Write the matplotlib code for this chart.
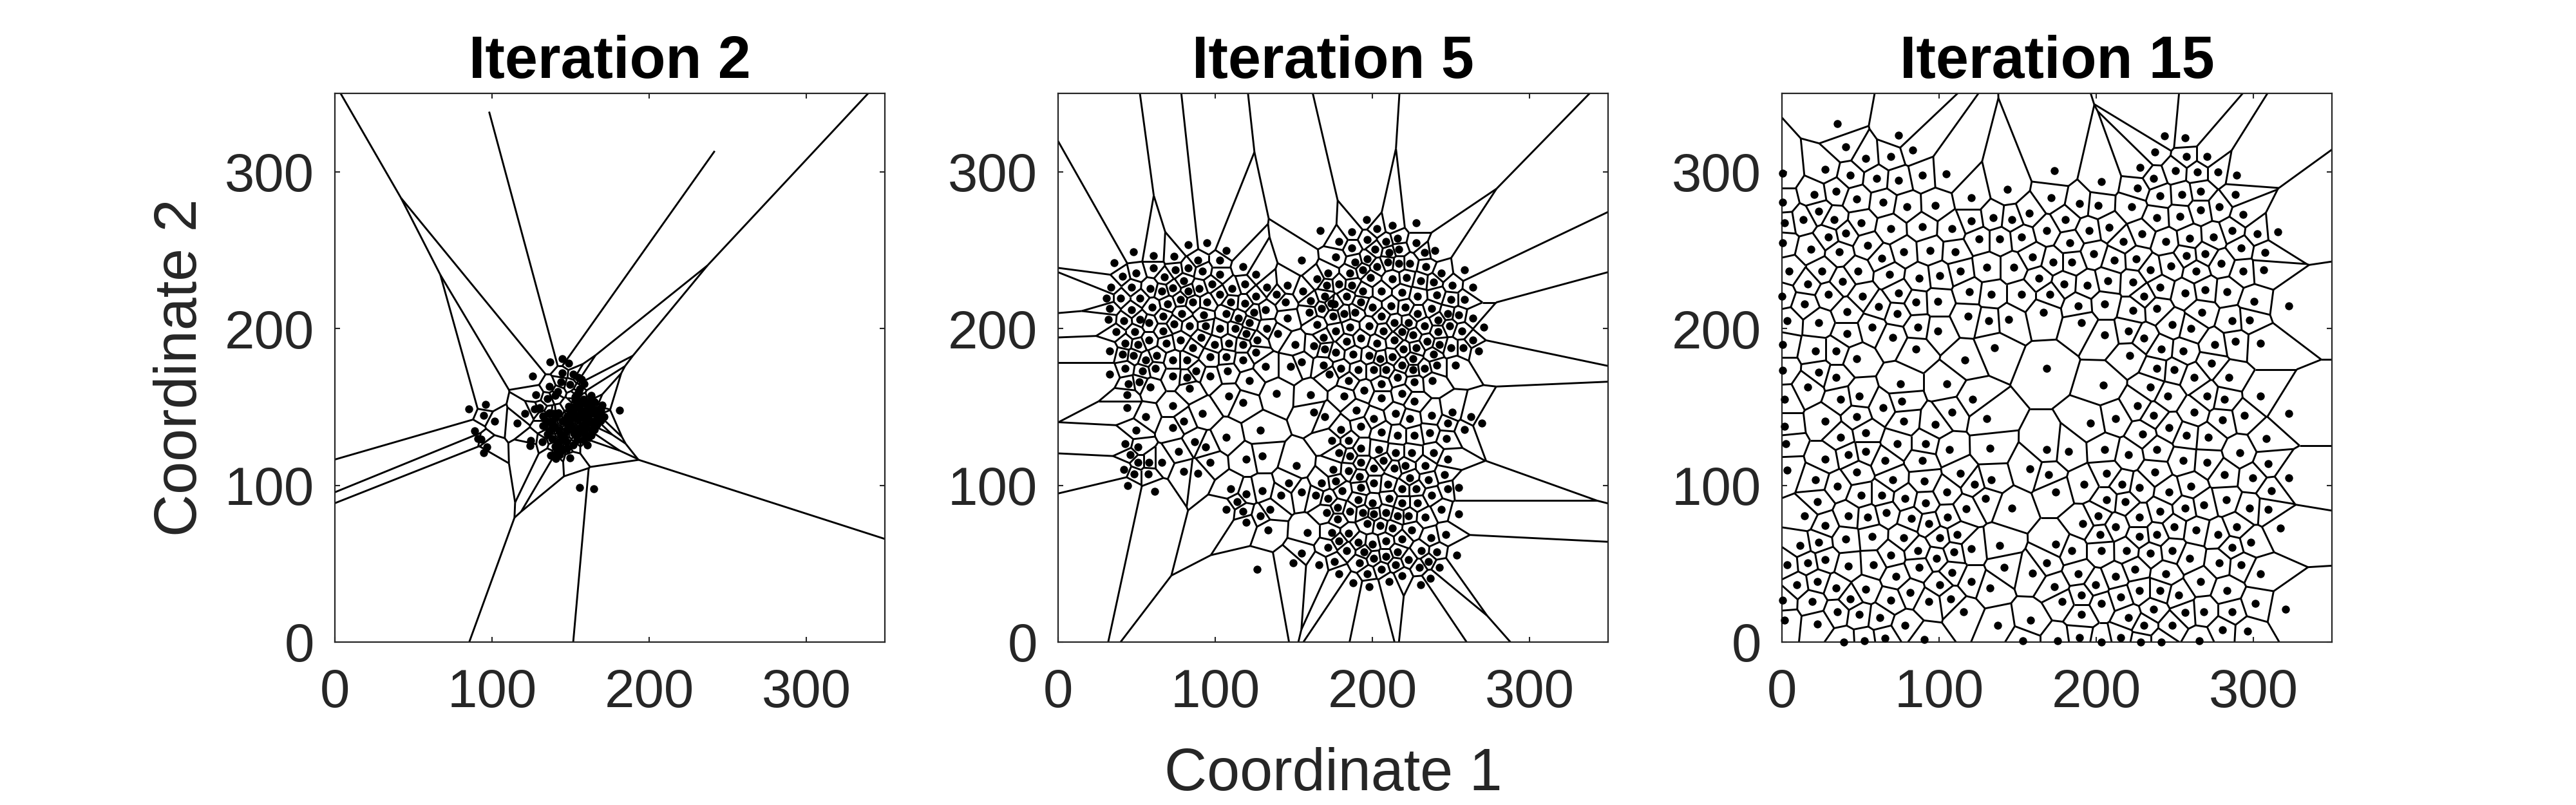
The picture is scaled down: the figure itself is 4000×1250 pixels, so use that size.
"""Voronoi tessellations of the node positions at three iterations."""

import matplotlib

matplotlib.use("Agg")
import matplotlib.pyplot as plt
import matplotlib.tri as mtri
import numpy as np
from matplotlib.collections import LineCollection

iter2_points = np.array([
    (85.1, 148.6), (95.9, 151.6), (94.7, 144.5), (101.8, 140.8), (89.1, 134.8), (91.1, 129.9), (93.2, 129.5),
    (96.9, 124.6), (94.7, 120.8), (121.1, 145.8), (116.1, 139.6), (124.7, 128.7), (124, 125.4), (128, 157.6),
    (126, 169.5), (137, 178.5), (144.8, 180.6), (148.9, 177.7), (144.8, 171.6), (151.8, 170.8), (143.9, 166),
    (149.7, 164.5), (136.6, 163), (141.6, 160), (135.4, 155.2), (140, 157.2), (127, 148.6), (130.5, 149.7),
    (181, 147.8), (160.8, 125.7), (149.6, 117.5), (140.7, 117), (137.3, 119), (132.1, 127.6), (155.9, 98.6),
    (164.9, 97.8), (155, 168.9), (158.5, 164.8), (157.1, 167.5), (155.7, 161.3), (154.4, 158.6), (153, 156.6),
    (163.3, 157.2), (165.3, 153.1), (170.1, 151.1), (169.4, 148.4), (171.4, 143.6), (169.4, 141.5),
    (165.3, 135.4), (161.2, 131.3), (151.6, 125.8), (147.5, 123.1), (132.5, 144.3), (132.5, 138.1),
    (136.6, 146.3), (142.1, 146.3), (140, 143.6), (135.2, 132.7), (138, 129.9), (142.1, 127.2), (141.4, 121.7),
    (144.8, 123.1), (143.4, 132.7), (147.5, 135.4), (139.3, 138.1), (144.8, 140.8), (142.1, 135.4),
    (138, 140.2), (144.1, 129.2), (148.9, 150.4), (153, 154.5), (151.6, 146.3), (155.7, 149), (159.8, 147.7),
    (154.4, 142.2), (150.3, 138.1), (157.1, 138.1), (161.2, 143.6), (164, 139.5), (158.5, 134), (154.4, 132.7),
    (159.8, 151.8), (166.7, 147.7), (166.7, 143.6), (162.6, 149), (155.7, 153.1), (147.5, 143.6),
    (152.9, 135.4), (157.8, 143.6), (151, 142.9), (163.9, 135.4),
    (150, 147), (153, 150), (156, 145), (160, 141), (163, 146), (148, 140), (152, 133), (156, 136), (160, 137),
    (146, 132), (140, 125), (143, 119.5), (147, 128), (137, 135), (135, 141), (139, 146), (149, 145), (158, 155),
    (161, 153), (165, 148), (168, 146), (167, 139), (163, 132), (158, 129), (154, 129),
])

iter5_points = np.array([
    (166.9, 262.7), (82.8, 253.5), (94.8, 254.8), (107.1, 249.9), (48.1, 248.8), (35.7, 241.8), (60.8, 246.6),
    (73.9, 245.9), (88.9, 243.7), (103, 243.7), (155, 243.7), (117.8, 239.6), (49.7, 235.5), (60.8, 238.8),
    (74.7, 237.6), (82.9, 238.8), (92, 236.8), (103, 234.7), (126, 234.7), (171.9, 235.5), (41.1, 233.5),
    (67.8, 232.8), (80.1, 230.6), (164.9, 231.8), (33.7, 226.5), (46.9, 226.5), (58.7, 225.7), (73.1, 225.8),
    (98.1, 228.5), (89.8, 225.7), (110.8, 225.7), (119, 228.5), (132.9, 226.5), (146, 227.7), (171, 227.7),
    (66.1, 223.8), (82.9, 223.8), (155.9, 223.8), (103, 221.7), (126, 220.8), (139.1, 221.7), (169.8, 220.8),
    (30.9, 219.5), (39.9, 219.5), (52.2, 219.5), (78, 218.7), (85.8, 216.7), (94.8, 216.7), (110, 216.7),
    (119, 216), (144.8, 216.7), (160.8, 217.6), (69.8, 215.8), (60, 213.8), (167.8, 212.6), (173.9, 216),
    (32.9, 212.6), (46.9, 211.8), (107.1, 209.7), (124.7, 210.5), (132.1, 211.8), (160, 210.5), (78.8, 209.7),
    (92.6, 208.5), (66.9, 207.7), (114.9, 206.8), (146, 206.8), (175.1, 207.7), (52, 205.7), (32.1, 205.7),
    (41.9, 204.8), (57.9, 203.6), (73.9, 202.9), (83.7, 201.6), (94, 201.5), (121.9, 203.6), (164.9, 202.7),
    (103, 200), (112.8, 200), (132.9, 199.9), (66.8, 198.6), (48.9, 198), (37, 198), (119.8, 196.6),
    (139.9, 196.6), (169, 194.5), (91.1, 194.5), (57.9, 192.5), (78, 192.5), (126.8, 192.5), (42.8, 190.8),
    (50.9, 189.6), (69, 190.8), (99.7, 189.6), (108.7, 190.8), (117.8, 189.6), (151, 189.6), (162.8, 188.8),
    (169.8, 186.8), (85.8, 187.6), (32.9, 185.5), (41.1, 183.5), (48.1, 182.6), (62.8, 182.6), (96.9, 181.8),
    (107.1, 181.8), (126, 184.7), (55.9, 179.8), (73.1, 179.8), (82.1, 179.8), (117.8, 179.8), (155, 178.6),
    (132.1, 175.7), (148.1, 175.7), (169, 176.5), (42.8, 174.5), (62, 174.5), (53.8, 172.8), (87.8, 172.8),
    (107.9, 172.8), (32.9, 170.8), (73.1, 169.5), (82.1, 168.7), (96.9, 169.5), (172.7, 170.8), (121.9, 166.7),
    (51.8, 165.8), (44.8, 164.6), (58.7, 162.6), (83.7, 161.7), (139.1, 158.5), (160.8, 157.6), (108.7, 156.9),
    (44, 157.6), (117.8, 152.7), (44, 149.5), (73.1, 150.7), (91.9, 145.8), (162.8, 146.6), (169.8, 143.7),
    (55.9, 143.7), (80.1, 140.8), (73.1, 136.7), (49.7, 135), (128.8, 135), (107.1, 130.6), (87, 127.7),
    (42.8, 126.5), (50.9, 124.5), (94, 124.5), (174, 128.6), (76.8, 121.6), (46, 119.5), (119.8, 116.7),
    (130, 118.7), (96.9, 114.6), (50.9, 114.6), (57.9, 114.6), (66.1, 114.6), (151.8, 112.4), (42, 110.1),
    (80, 108.7),
    (187, 261.7), (196.2, 269.5), (202.9, 263.8), (212.8, 265.8), (228, 267.5), (178.8, 255.6), (196.9, 256.8),
    (208.7, 255.6), (216.1, 257.7), (228, 254.8), (187, 251.5), (201.8, 250.7), (217, 250.7), (210.8, 248.7),
    (233, 248.7), (239.9, 249.9), (176.8, 245.8), (196.9, 244.5), (189, 242.5), (210, 242.4), (216.9, 241.6),
    (223.9, 241.7), (203, 239.6), (234, 239.6), (194, 237.6), (185.8, 235.5), (244, 235.5), (258.7, 237.6),
    (198.9, 232.7), (212.8, 231.8), (221.9, 232.6), (230.9, 230.6), (239, 229.8), (178.8, 228.5), (187, 227.7),
    (251, 227.7), (264, 226.5), (194, 223.8), (205.9, 223.8), (219, 223), (228.8, 220.8), (241.1, 221.6),
    (183.7, 220.8), (250.1, 218.7), (258.7, 218.7), (176, 215.8), (192.8, 216.7), (200.2, 213.8), (212, 214.6),
    (221, 213.8), (237.8, 212.6), (182.1, 209.7), (189.1, 210.5), (228.8, 209.7), (248, 209.7), (255, 208.5),
    (205.9, 207.7), (264, 206.8), (242, 205.6), (214, 203.6), (223.1, 203.6), (185.8, 200.7), (198.1, 201.5),
    (233, 201.5), (249, 201.5), (271, 200.7), (176.8, 198.6), (207.1, 198.6), (219, 198.2), (241.9, 198.2),
    (257.1, 198.6), (226, 195.8), (192.8, 193.7), (183.6, 191.7), (203, 190.8), (214, 192.5), (234.9, 191.7),
    (264, 192.5), (242.8, 189.6), (219.8, 186.8), (228, 187.6), (257.9, 187.6), (249.9, 187.6), (267.8, 185.5),
    (176.8, 184.7), (187.8, 183.5), (198.1, 182.6), (239, 183.5), (205, 180.6), (212.8, 181.8), (225.9, 180.6),
    (180, 174.5), (219, 176.5), (241.1, 176.5), (253, 176.5), (191.1, 173.6), (201, 173.6), (208.7, 173.6),
    (225.9, 173.6), (233, 174.5), (216.1, 168.7), (185, 166.7), (238, 166.7), (205.9, 164.6), (226.8, 165.8),
    (194.8, 160.5), (219, 158.5), (182.1, 156.8), (205.9, 155.6), (226.8, 153.6), (189.9, 147.8), (214.9, 145.8),
    (237.8, 144.5), (250.9, 146.6), (262.8, 143.7), (201, 142.5), (223.9, 142.5), (269.8, 139.6), (248, 139.6),
    (192.8, 137.6), (258.7, 135.5), (180, 135.5), (205.9, 134), (216.1, 131.8), (226.8, 131.8), (236.6, 133.5),
    (247.2, 129.8), (185, 128.6), (192.8, 123.6), (203.9, 122.8), (214.9, 120.8), (225.1, 120.8), (239, 120.8),
    (178.8, 120.8), (185.8, 118.7), (248, 116.7), (192.8, 114.6), (207.1, 115.8), (221, 112.6), (233.7, 112.6),
    (175.1, 110.1), (201, 110.9), (214.1, 110.9), (185, 109.4),
    (89, 107.6), (110, 97.8), (146.9, 101.5), (167.8, 101.5), (176.8, 102.7), (130.1, 96.6), (119.8, 94.5),
    (141.9, 93.7), (155, 95.8), (164.1, 93.7), (180.9, 96.6), (192.8, 98.6), (201, 101.5), (209.9, 100.7),
    (219, 97.8), (228, 97.8), (223.9, 104.8), (192, 105.6), (235.7, 103.6), (171.9, 91.7), (191.1, 90.8),
    (210.8, 91.7), (237.9, 93.7), (114.1, 89.6), (200.1, 88.8), (178, 85.9), (219, 88.8), (228.8, 88.8),
    (107.1, 84.7), (134.8, 84.7), (117.8, 83.5), (171, 82.7), (185.8, 83.5), (193.9, 82.7), (201, 81.8),
    (208.7, 82.7), (216.1, 80.6), (223.1, 80.6), (233.7, 79.8), (128.8, 80.6), (178, 78.6), (119.8, 76.5),
    (196.9, 75.7), (205, 74.5), (212.9, 72.8), (133.7, 71.6), (174, 70), (158.7, 70), (185, 69.5), (225.1, 71.6),
    (237.1, 66.7), (219, 65.8), (208.7, 64.6), (178.8, 64.6), (191.1, 63.8), (200.1, 62.6), (171.9, 60.5),
    (155, 56.8), (183.8, 58.5), (194.8, 57.7), (216.1, 57.7), (231, 58.5), (201, 53.6), (208.7, 54.8),
    (223.1, 52.7), (149.7, 50.7), (166.1, 49.5), (176, 51.5), (192, 50.7), (214.9, 49.5), (235.7, 51.5),
    (230, 47.8), (126.8, 46.6), (205.9, 46.6), (178.8, 43.7), (196.9, 43.7), (219, 42.5), (237, 40.8),
    (210.8, 38.8), (187.9, 37.6), (198.1, 35.5), (230.9, 36.7),
    (48.3, 107.4), (57.4, 107.4), (44.4, 100), (61.6, 96.3),
    (246, 106.8), (248.1, 97.8), (255.1, 98.6), (244, 84.7), (255.1, 81.8), (246.9, 68.7), (241.1, 57.7),
    (253.8, 55.6), (242.8, 47.8),
])

iter15_points = np.array([
    (35.4, 330.5), (74.3, 323.5), (40.6, 315.8), (83.3, 314), (53.3, 308.5), (69.3, 309.7), (27.5, 301.5),
    (0.5, 298.9), (43.6, 297.8), (60.4, 295.8), (74.3, 294.7), (89.5, 297.8), (104.6, 298.8), (173.5, 300.7),
    (20.6, 285.5), (34.4, 287.7), (47.7, 282.8), (0.5, 280.6), (64.5, 280.6), (79.6, 277.9), (97.7, 278.6),
    (120.6, 283.5), (143.6, 288.8), (171.4, 283.5), (23.5, 274.9), (13.5, 269.5), (33.3, 269.5), (1.5, 267.5),
    (50.4, 267.5), (120.6, 268.7), (134.4, 270.8), (146.4, 269.5), (157.4, 273.6), (69.3, 263.8), (89.5, 264.8),
    (108.3, 263.8), (168.6, 262.6), (40.6, 260.8), (29.6, 258.5), (0.5, 254.9), (54.6, 252.9), (125.4, 257),
    (138.7, 257), (152.6, 258.5), (18.6, 250.7), (36.5, 248.8), (77.6, 248.8), (94.3, 249.9), (110.4, 248.8),
    (159.6, 245.8), (63.7, 244.7), (172.5, 242.5), (4.6, 236.7), (25.5, 236.7), (48.4, 236.7), (130.5, 238.9),
    (147.5, 238.9), (113.5, 236.7), (68.4, 234.7), (100.5, 233.6), (87.3, 232), (163.7, 232), (38.5, 229.9),
    (16.5, 228.6), (119.4, 223.6), (74.3, 222.8), (29.6, 221.7), (133.3, 221.7), (152.6, 221.7), (170.6, 221.7),
    (0, 220.8), (51.4, 220.8), (99.3, 217.3), (85.4, 216.7), (14.5, 215.8), (61.6, 213.9), (73.4, 209.7),
    (41.5, 210.8), (166.5, 210.5), (118.6, 207.7), (3.3, 204.8), (131.7, 204.8), (144.4, 205.7), (23.5, 203.7),
    (57.5, 200.7), (86.5, 200.7), (41.5, 196.6), (99.3, 198.6), (70.6, 194.5), (135.4, 187.7), (0.5, 189.8),
    (85.4, 186.8), (21.4, 185.6), (34.4, 185.6), (47.7, 180.7), (116.5, 179.8), (168.6, 174.6), (0.5, 173.5),
    (23.5, 172), (34.4, 168.9),
    (16.5, 162.6), (104.8, 164.7), (75.5, 164.7), (1.5, 155), (37.4, 155), (49.2, 157), (121.3, 155),
    (76.4, 153.7), (64.5, 149.6), (108.3, 146.6), (47.7, 143.7), (27.5, 140.8), (77.6, 140.8), (130.5, 142.5),
    (97.7, 138.8), (1.5, 137.7), (53.4, 133.6), (37.4, 130.6), (2.6, 126.5), (73.4, 126.5), (91.4, 126.5),
    (106.7, 123), (132.5, 123.6), (168.6, 123), (53.4, 121.6), (42.4, 119.5), (27.5, 116.7), (65.7, 115.8),
    (89.5, 115.8), (3.3, 109.8), (47.7, 108.3), (113.7, 107.6), (157.7, 110.5), (169.5, 107), (21.4, 103.7),
    (70.6, 103.7), (133.3, 103.7), (90.7, 102.9), (122.7, 100.7), (35.4, 99.6), (50.4, 93.7), (63.7, 93.7),
    (78.4, 91.7), (104.8, 95.8), (174.3, 95.8), (129.6, 91.7), (22.7, 89.6), (91.4, 88.8), (146.4, 85.5),
    (117.3, 85.2), (66.5, 82.7), (14.5, 80.7), (42.4, 80.7), (54.6, 79.8), (105.5, 79.8), (82.5, 78.7),
    (93.6, 75.7), (27.5, 74.5), (57.5, 67.5), (77.6, 66.7), (100.5, 66.7), (111.6, 68.7), (40.7, 65.8),
    (11.6, 61.7), (23.5, 63.8), (138.7, 61.7), (174.3, 62.6), (86.5, 58.5), (120.6, 59.7), (109.6, 57.6),
    (69.3, 55.6), (98.5, 53.6), (27.5, 52.7), (16.5, 50.7), (168.6, 50.7), (3.3, 49.5), (42.4, 48.6),
    (58.3, 49.5), (87.4, 47.8), (141.5, 47.8), (108.3, 44.5), (159.6, 44), (72.7, 41.7), (22.7, 38.8),
    (120.6, 38.8), (9.6, 36.7), (100.5, 36.7), (34.4, 34.7), (132.5, 34.7), (173.5, 35.5), (53.4, 33.5),
    (81.7, 31.8), (43.6, 27.7), (107.5, 27.7), (0.5, 26.5), (69.3, 26.5), (19.4, 25.7), (93.6, 25.7),
    (35.4, 19.5), (115.7, 19.5), (49.3, 17.5), (62.4, 15.8), (1.5, 13.8), (158.3, 13.8), (22.7, 11.7),
    (78.4, 10.5), (137.4, 10.5), (65.7, 2.6), (90.7, 1.5), (39.5, 0), (52.6, 0.7), (153.4, 0.7), (175.4, 0.7),
    (243.6, 322.8), (256.7, 321.6), (237.4, 312.6), (257.5, 309.7), (270.5, 309.7), (227.7, 302.7),
    (250.5, 300.7), (264.5, 299.9), (277.6, 299.9), (289.5, 297.8), (236.6, 295.8), (203.4, 293.9),
    (226.4, 289.6), (266.5, 287.6), (254.6, 285.5), (240.7, 284.7), (288.6, 285.5), (189.5, 279.8),
    (201.4, 278.6), (222.7, 277.7), (278.4, 277.7), (266.5, 275.7), (293.6, 272.8), (253.4, 271.6),
    (238.7, 270.8), (180.5, 269.5), (208.3, 264.6), (195.6, 262.6), (286.6, 262.6), (229, 260.5),
    (315.7, 261.7), (302.6, 260.5), (259.5, 257.6), (274.7, 258.5), (217.3, 255.6), (244.4, 255.6),
    (183.3, 254.8), (292.3, 251.5), (198.5, 247.8), (269.4, 247.8), (257.5, 246.6), (307.5, 248.6),
    (225.5, 244.5), (211.6, 243.7), (279.7, 241.7), (184.6, 242.5), (247.6, 240), (234.6, 237.6),
    (263.6, 236.7), (293.6, 236.7), (306.7, 237.6), (223.5, 229.8), (207.5, 230.6), (179.6, 228.6),
    (194.4, 227.7), (240.7, 226.5), (269.4, 224.9), (283.3, 223.6), (256.7, 222.8), (230.5, 220.8),
    (300.5, 217.5), (205.5, 215.8), (188.7, 214.6), (322.7, 214.6), (238.7, 212.6), (223.5, 211.7),
    (267.3, 210.5), (286.6, 204.8), (297.6, 205.6), (190.7, 203.7), (248.5, 202.7), (260.4, 199.9),
    (220.6, 198.6), (205.5, 195.8), (230.5, 193.7), (288.7, 191.7), (304.6, 190.8), (275.5, 189.6),
    (241.5, 186.8), (255.5, 185.5), (221.4, 182.6), (273.5, 177.7), (238.7, 174.5), (249.6, 173.6),
    (262.4, 168.7), (284.6, 168.7), (204.6, 163.8), (234.6, 162.6), (304.6, 157), (245.6, 157), (270.6, 157),
    (281.7, 154.8), (226.4, 150.7), (262.4, 146.6), (322.7, 145.8), (212.4, 142.5), (236.6, 144.5),
    (294.4, 144.5), (280.5, 141.7), (246.4, 136.7), (196.4, 139.6), (229.6, 132.7), (257.5, 131.8),
    (271.4, 130.6), (308.3, 129.8), (205.5, 122.8), (238.7, 122.8), (182.5, 121.6), (220.6, 119.5),
    (291.5, 120.8), (255.5, 115.8), (270.6, 114.6), (309.6, 113.8), (237.4, 108.5), (206.7, 107.6),
    (281.7, 106.8), (299.7, 104.8), (322.7, 104.8), (192.3, 100.7), (216.5, 100.7), (260.4, 99.5),
    (227.6, 98.6), (246.4, 95.8), (311.6, 96.6), (206.7, 90.8), (282.6, 90.8), (218.6, 89.6), (268.6, 87.6),
    (256.7, 85.5), (297.7, 85.5), (309.6, 84.7), (240.7, 83.5), (201.4, 80.6), (227.6, 79.8), (191.5, 75.7),
    (212.4, 73.6), (249.7, 73.6), (263.6, 71.6), (289.5, 73.6), (317.4, 72.8), (202.6, 68.7), (238.7, 68.7),
    (277.6, 68.7), (227.6, 67.5), (298.5, 63.8), (286.6, 60.5), (219.4, 58.5), (248.5, 58.5), (184.6, 58.3),
    (203.4, 58.3), (234.6, 56.8), (259.6, 53.6), (278.4, 50.7), (292.3, 49.5), (224.7, 46.6), (188.7, 43.7),
    (244.4, 43.7), (304.6, 43.7), (212.4, 41.7), (266.5, 38.8), (199.7, 36.7), (283.3, 32.7), (227.6, 32.7),
    (240.7, 32.7), (190.7, 29.8), (215.7, 28.6), (252.6, 29.8), (178.4, 25.7), (203.4, 24.5), (301.4, 24.5),
    (236.6, 20.8), (320.6, 20.8), (268.6, 19.5), (286.6, 19.5), (256.7, 18.7), (190.7, 17.5), (220.6, 15.8),
    (230.5, 10.5), (248.5, 10.5), (280.5, 7.7), (296.4, 6.8), (189.5, 2.7), (215.7, 2.7), (203.4, 0),
    (228.4, 0), (241.5, 0), (265.7, 0.7),
])

panel_titles = ["Iteration 2", "Iteration 5", "Iteration 15"]
panel_points = [iter2_points, iter5_points, iter15_points]
tick_values = [0, 100, 200, 300]
axis_limit = 350
ray_length = 168  # unbounded cells stop this far out, visible in the first panel

TEXT_COLOR = "#262626"


def circumcenters(x, y, triangles):
    ax, ay = x[triangles[:, 0]], y[triangles[:, 0]]
    bx, by = x[triangles[:, 1]], y[triangles[:, 1]]
    cx, cy = x[triangles[:, 2]], y[triangles[:, 2]]
    d = 2 * (ax * (by - cy) + bx * (cy - ay) + cx * (ay - by))
    a2, b2, c2 = ax**2 + ay**2, bx**2 + by**2, cx**2 + cy**2
    ux = (a2 * (by - cy) + b2 * (cy - ay) + c2 * (ay - by)) / d
    uy = (a2 * (cx - bx) + b2 * (ax - cx) + c2 * (bx - ax)) / d
    return np.column_stack([ux, uy])


def voronoi_segments(points):
    """Voronoi edges as the dual of the Delaunay triangulation."""
    x, y = points[:, 0], points[:, 1]
    tri = mtri.Triangulation(x, y)
    centers = circumcenters(x, y, tri.triangles)
    segments = []
    for i, (tri_pts, nbrs) in enumerate(zip(tri.triangles, tri.neighbors)):
        for k in range(3):
            j = nbrs[k]
            if j > i:
                segments.append((centers[i], centers[j]))
            elif j == -1:
                # hull edge, send a ray away from the opposite vertex
                p, q = points[tri_pts[k]], points[tri_pts[(k + 1) % 3]]
                other = points[tri_pts[(k + 2) % 3]]
                normal = np.array([q[1] - p[1], p[0] - q[0]])
                normal = normal / np.hypot(*normal)
                if np.dot(normal, other - p) > 0:
                    normal = -normal
                segments.append((centers[i], centers[i] + normal * ray_length))
    return segments


def draw_panel(ax, points, title):
    ax.add_collection(LineCollection(voronoi_segments(points), colors="black", linewidths=2.1, zorder=2))
    ax.scatter(points[:, 0], points[:, 1], s=80, color="black", linewidths=0, clip_on=False, zorder=3)
    ax.set_xlim(0, axis_limit)
    ax.set_ylim(0, axis_limit)
    ax.set_xticks(tick_values)
    ax.set_yticks(tick_values)
    ax.tick_params(direction="in", length=6, width=1.5, top=True, right=True, color=TEXT_COLOR,
                   labelcolor=TEXT_COLOR, labelsize=60)
    ax.tick_params(axis="x", pad=29)
    ax.tick_params(axis="y", pad=23)
    for spine in ax.spines.values():
        spine.set_color(TEXT_COLOR)
        spine.set_linewidth(1.6)
    ax.set_title(title, fontsize=66, fontweight="bold", color="black", pad=17)


plt.rcParams["font.family"] = ["Liberation Sans", "DejaVu Sans"]

fig = plt.figure(figsize=(40, 12.5), dpi=100)
panel_lefts = [520, 1643, 2767]
axes = []
for left, points, title in zip(panel_lefts, panel_points, panel_titles):
    ax = fig.add_axes([left / 4000, (1250 - 997) / 1250, 854 / 4000, 852 / 1250])
    draw_panel(ax, points, title)
    axes.append(ax)

axes[0].set_ylabel("Coordinate 2", fontsize=66, color=TEXT_COLOR, labelpad=18)
axes[1].set_xlabel("Coordinate 1", fontsize=66, color=TEXT_COLOR, labelpad=32)

fig.savefig("out.png", dpi=100, facecolor="white")
